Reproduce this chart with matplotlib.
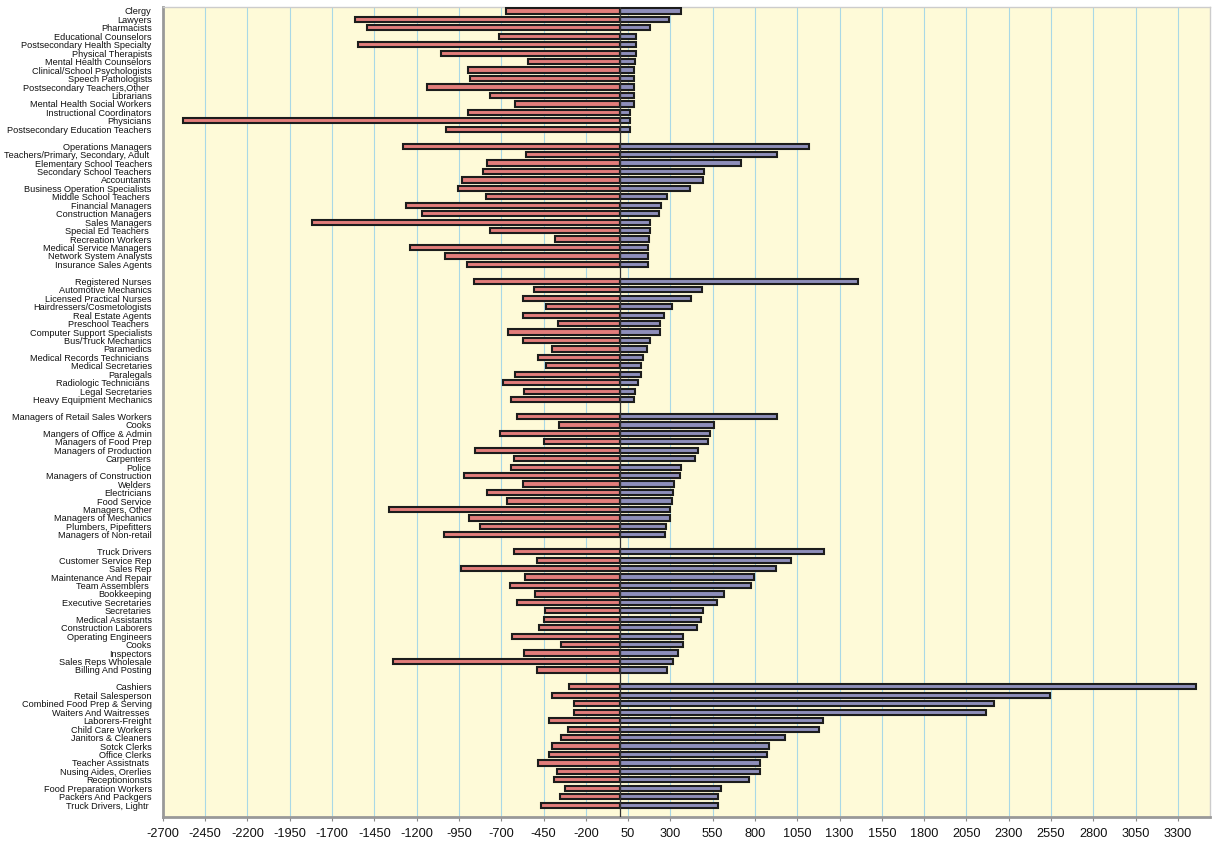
import matplotlib
matplotlib.use("Agg")
import matplotlib.pyplot as plt

# occupations, grouped (top to bottom); a blank row separates groups
group1 = ["Clergy", "Lawyers", "Pharmacists", "Educational Counselors",
          "Postsecondary Health Specialty", "Physical Therapists",
          "Mental Health Counselors", "Clinical/School Psychologists",
          "Speech Pathologists", "Postsecondary Teachers,Other ", "Librarians",
          "Mental Health Social Workers", "Instructional Coordinators",
          "Physicians", "Postsecondary Education Teachers"]
group2 = ["Operations Managers", "Teachers/Primary, Secondary, Adult ",
          "Elementary School Teachers", "Secondary School Teachers",
          "Accountants", "Business Operation Specialists",
          "Middle School Teachers ", "Financial Managers",
          "Construction Managers", "Sales Managers", "Special Ed Teachers ",
          "Recreation Workers", "Medical Service Managers",
          "Network System Analysts", "Insurance Sales Agents"]
group3 = ["Registered Nurses", "Automotive Mechanics", "Licensed Practical Nurses",
          "Hairdressers/Cosmetologists", "Real Estate Agents", "Preschool Teachers ",
          "Computer Support Specialists", "Bus/Truck Mechanics", "Paramedics",
          "Medical Records Technicians ", "Medical Secretaries", "Paralegals",
          "Radiologic Technicians ", "Legal Secretaries", "Heavy Equipment Mechanics"]
group4 = ["Managers of Retail Sales Workers", "Cooks", "Mangers of Office & Admin",
          "Managers of Food Prep", "Managers of Production", "Carpenters", "Police",
          "Managers of Construction", "Welders", "Electricians", "Food Service",
          "Managers, Other", "Managers of Mechanics", "Plumbers, Pipefitters",
          "Managers of Non-retail"]
group5 = ["Truck Drivers", "Customer Service Rep", "Sales Rep",
          "Maintenance And Repair", "Team Assemblers ", "Bookkeeping",
          "Executive Secretaries", "Secretaries", "Medical Assistants",
          "Construction Laborers", "Operating Engineers", "Cooks", "Inspectors",
          "Sales Reps Wholesale", "Billing And Posting"]
group6 = ["Cashiers", "Retail Salesperson", "Combined Food Prep & Serving",
          "Waiters And Waitresses ", "Laborers-Freight", "Child Care Workers",
          "Janitors & Cleaners", "Sotck Clerks", "Office Clerks",
          "Teacher Assistnats ", "Nusing Aides, Orerlies", "Receptionionsts",
          "Food Preparation Workers", "Packers And Packgers", "Truck Drivers, Lightr "]

neg1 = [-673, -1566, -1494, -714, -1548, -1056, -540, -896, -887, -1138, -764, -619, -896, -2582, -1027]
pos1 = [361, 294, 181, 98, 98, 98, 90, 84, 84, 84, 84, 82, 64, 64, 61]
neg2 = [-1278, -556, -783, -807, -930, -955, -791, -1265, -1169, -1821, -769, -382, -1241, -1032, -901]
pos2 = [1122, 928, 720, 497, 493, 415, 280, 247, 231, 180, 178, 172, 166, 166, 166]
neg3 = [-858, -505, -570, -435, -574, -364, -660, -574, -399, -480, -433, -619, -691, -564, -644]
pos3 = [1410, 484, 421, 307, 260, 241, 239, 178, 161, 137, 127, 125, 110, 88, 82]
neg4 = [-608, -358, -709, -446, -852, -624, -640, -917, -572, -784, -665, -1365, -893, -828, -1038]
pos4 = [928, 559, 533, 523, 461, 444, 364, 358, 321, 313, 307, 297, 295, 273, 269]
neg5 = [-622, -491, -935, -557, -650, -501, -606, -442, -450, -475, -634, -345, -568, -1341, -487]
pos5 = [1205, 1010, 925, 796, 778, 616, 576, 491, 483, 456, 376, 372, 347, 313, 281]
neg6 = [-297, -397, -269, -267, -415, -308, -346, -397, -418, -484, -372, -387, -325, -354, -465]
pos6 = [3405, 2545, 2215, 2165, 1200, 1180, 980, 882, 872, 830, 830, 762, 600, 580, 580]

groups = [group1, group2, group3, group4, group5, group6]
negs = [neg1, neg2, neg3, neg4, neg5, neg6]
poss = [pos1, pos2, pos3, pos4, pos5, pos6]

labels, neg, pos, ypos = [], [], [], []
row = 0
for g, n, p in zip(groups, negs, poss):
    for lab, a, b in zip(g, n, p):
        labels.append(lab)
        neg.append(a)
        pos.append(b)
        ypos.append(row)
        row += 1
    row += 1  # blank row between groups

fig = plt.figure(figsize=(12.15, 8.44), dpi=100)
ax = fig.add_axes([0.134, 0.032, 0.862, 0.960])
ax.set_facecolor("#fefad8")

ax.barh(ypos, neg, height=0.62, color="#e27d7b", edgecolor="#1c1c1c", linewidth=1.5, zorder=3)
ax.barh(ypos, pos, height=0.62, color="#8e8eba", edgecolor="#1c1c1c", linewidth=1.5, zorder=3)
ax.axvline(0, color="#333333", linewidth=0.9, zorder=4)

ax.set_ylim(ypos[-1] + 1.4, -0.5)
ax.set_yticks(ypos)
ax.set_yticklabels(labels, fontsize=6.6, fontfamily="Liberation Sans", color="#111111")
ax.tick_params(axis="y", length=0, pad=8)

xt = list(range(-2700, 3301, 250))
ax.set_xlim(-2700, 3490)
ax.set_xticks(xt)
ax.set_xticklabels([str(v) for v in xt], fontsize=9.2, fontfamily="Liberation Sans", color="#111111")
ax.tick_params(axis="x", length=3, color="#888888", pad=5)
ax.grid(axis="x", color="#a9d8e6", linewidth=0.8, zorder=0)

for side in ["left", "bottom"]:
    ax.spines[side].set_color("#999999")
    ax.spines[side].set_linewidth(2)
for side in ["top", "right"]:
    ax.spines[side].set_color("#cccccc")
    ax.spines[side].set_linewidth(1)

plt.savefig("out.png", dpi=100)
